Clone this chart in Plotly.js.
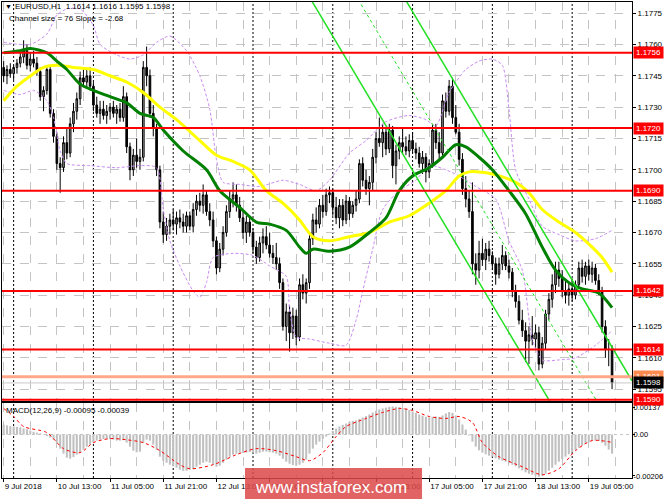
<!DOCTYPE html>
<html><head><meta charset="utf-8">
<script src="https://cdn.plot.ly/plotly-3.0.1.min.js"></script>
<style>html,body{margin:0;padding:0;background:#fff}#chart{width:665px;height:499px}</style>
</head><body><div id="chart"></div>
<script>
// ---- candles (EURUSD H1, bar 0 = 9 Jul 21:00) ----
const openP = [
1.1749,1.1745,1.1748,1.1746,1.1749,1.1751,1.1754,1.1757,1.1750,1.1753,
1.1751,1.1747,1.1735,1.1738,1.1748,1.1727,1.1716,1.1703,1.1701,1.1713,
1.1708,1.1722,1.1728,1.1734,1.1744,1.1742,1.1745,1.1740,1.1731,1.1727,
1.1729,1.1726,1.1728,1.1730,1.1727,1.1729,1.1725,1.1735,1.1711,1.1700,
1.1707,1.1704,1.1706,1.1749,1.1745,1.1727,1.1720,1.1700,1.1675,1.1669,
1.1673,1.1676,1.1674,1.1677,1.1675,1.1673,1.1678,1.1673,1.1681,1.1685,
1.1683,1.1688,1.1680,1.1676,1.1666,1.1653,1.1662,1.1670,1.1680,1.1686,
1.1688,1.1683,1.1677,1.1670,1.1675,1.1670,1.1663,1.1658,1.1665,1.1668,
1.1664,1.1660,1.1658,1.1655,1.1646,1.1625,1.1632,1.1622,1.1630,1.1620,
1.1645,1.1641,1.1646,1.1667,1.1676,1.1674,1.1683,1.1680,1.1688,1.1689,
1.1682,1.1677,1.1683,1.1676,1.1685,1.1679,1.1683,1.1686,1.1703,1.1695,
1.1691,1.1694,1.1706,1.1715,1.1713,1.1718,1.1710,1.1719,1.1702,1.1709,
1.1713,1.1711,1.1709,1.1714,1.1710,1.1708,1.1703,1.1706,1.1699,1.1703,
1.1719,1.1713,1.1708,1.1733,1.1728,1.1740,1.1725,1.1718,1.1705,1.1691,
1.1686,1.1680,1.1655,1.1652,1.1660,1.1657,1.1662,1.1659,1.1655,1.1650,
1.1655,1.1659,1.1654,1.1651,1.1642,1.1637,1.1628,1.1623,1.1618,1.1621,
1.1619,1.1622,1.1607,1.1617,1.1631,1.1638,1.1645,1.1652,1.1648,1.1642,
1.1640,1.1643,1.1640,1.1645,1.1653,1.1649,1.1654,1.1650,1.1653,1.1647,
1.1642,1.1625,1.1614,1.1614];
const highP = [
1.1752,1.1750,1.1751,1.1750,1.1753,1.1756,1.1762,1.1760,1.1756,1.1757,
1.1754,1.1749,1.1740,1.1750,1.1750,1.1729,1.1718,1.1706,1.1716,1.1720,
1.1725,1.1732,1.1737,1.1747,1.1749,1.1748,1.1749,1.1742,1.1735,1.1733,
1.1733,1.1731,1.1732,1.1733,1.1731,1.1732,1.1740,1.1737,1.1713,1.1710,
1.1715,1.1710,1.1752,1.1759,1.1748,1.1731,1.1722,1.1702,1.1680,1.1677,
1.1679,1.1681,1.1680,1.1681,1.1679,1.1680,1.1680,1.1684,1.1688,1.1689,
1.1693,1.1690,1.1684,1.1680,1.1668,1.1665,1.1673,1.1683,1.1690,1.1694,
1.1693,1.1687,1.1680,1.1678,1.1678,1.1672,1.1666,1.1668,1.1672,1.1673,
1.1670,1.1664,1.1665,1.1658,1.1648,1.1636,1.1635,1.1634,1.1633,1.1648,
1.1650,1.1648,1.1670,1.1679,1.1682,1.1686,1.1688,1.1691,1.1692,1.1691,
1.1687,1.1686,1.1686,1.1688,1.1687,1.1685,1.1690,1.1705,1.1706,1.1700,
1.1697,1.1710,1.1718,1.1725,1.1722,1.1720,1.1722,1.1721,1.1712,1.1716,
1.1720,1.1716,1.1717,1.1718,1.1713,1.1711,1.1709,1.1708,1.1705,1.1722,
1.1722,1.1718,1.1736,1.1737,1.1743,1.1744,1.1731,1.1722,1.1708,1.1697,
1.1690,1.1694,1.1660,1.1666,1.1667,1.1665,1.1666,1.1661,1.1658,1.1658,
1.1664,1.1661,1.1657,1.1653,1.1645,1.1640,1.1633,1.1627,1.1625,1.1630,
1.1626,1.1625,1.1620,1.1633,1.1641,1.1650,1.1656,1.1656,1.1652,1.1647,
1.1646,1.1648,1.1647,1.1656,1.1657,1.1656,1.1657,1.1656,1.1655,1.1650,
1.1644,1.1628,1.1619,1.1616];
const lowP = [
1.1742,1.1741,1.1744,1.1743,1.1746,1.1749,1.1751,1.1748,1.1747,1.1749,
1.1745,1.1733,1.1728,1.1736,1.1725,1.1713,1.1700,1.1689,1.1699,1.1705,
1.1706,1.1718,1.1724,1.1731,1.1740,1.1739,1.1738,1.1728,1.1725,1.1722,
1.1724,1.1722,1.1724,1.1725,1.1722,1.1723,1.1723,1.1708,1.1695,1.1697,
1.1701,1.1700,1.1704,1.1740,1.1725,1.1716,1.1697,1.1672,1.1665,1.1666,
1.1669,1.1671,1.1669,1.1672,1.1670,1.1670,1.1671,1.1670,1.1678,1.1680,
1.1679,1.1678,1.1673,1.1663,1.1650,1.1651,1.1659,1.1668,1.1677,1.1682,
1.1680,1.1675,1.1667,1.1665,1.1668,1.1660,1.1655,1.1656,1.1660,1.1662,
1.1658,1.1655,1.1652,1.1643,1.1623,1.1618,1.1613,1.1619,1.1616,1.1618,
1.1638,1.1636,1.1643,1.1664,1.1670,1.1672,1.1677,1.1678,1.1684,1.1678,
1.1674,1.1672,1.1673,1.1674,1.1676,1.1677,1.1680,1.1684,1.1692,1.1688,
1.1683,1.1690,1.1703,1.1711,1.1706,1.1707,1.1708,1.1696,1.1693,1.1705,
1.1708,1.1707,1.1706,1.1708,1.1705,1.1701,1.1698,1.1694,1.1696,1.1701,
1.1710,1.1705,1.1706,1.1725,1.1726,1.1722,1.1717,1.1702,1.1688,1.1682,
1.1677,1.1650,1.1645,1.1648,1.1654,1.1652,1.1656,1.1652,1.1645,1.1648,
1.1652,1.1652,1.1648,1.1639,1.1634,1.1626,1.1620,1.1608,1.1607,1.1616,
1.1614,1.1604,1.1605,1.1614,1.1628,1.1634,1.1641,1.1644,1.1639,1.1636,
1.1635,1.1637,1.1638,1.1643,1.1646,1.1645,1.1647,1.1646,1.1645,1.1640,
1.1622,1.1610,1.1606,1.1595];
const closeP = [
1.1745,1.1748,1.1746,1.1749,1.1751,1.1754,1.1757,1.1750,1.1753,1.1751,
1.1747,1.1735,1.1738,1.1748,1.1727,1.1716,1.1703,1.1701,1.1713,1.1708,
1.1722,1.1728,1.1734,1.1744,1.1742,1.1745,1.1740,1.1731,1.1727,1.1729,
1.1726,1.1728,1.1730,1.1727,1.1729,1.1725,1.1735,1.1711,1.1700,1.1707,
1.1704,1.1706,1.1749,1.1745,1.1727,1.1720,1.1700,1.1675,1.1669,1.1673,
1.1676,1.1674,1.1677,1.1675,1.1673,1.1678,1.1673,1.1681,1.1685,1.1683,
1.1688,1.1680,1.1676,1.1666,1.1653,1.1662,1.1670,1.1680,1.1686,1.1688,
1.1683,1.1677,1.1670,1.1675,1.1670,1.1663,1.1658,1.1665,1.1668,1.1664,
1.1660,1.1658,1.1655,1.1646,1.1625,1.1632,1.1622,1.1630,1.1620,1.1645,
1.1641,1.1646,1.1667,1.1676,1.1674,1.1683,1.1680,1.1688,1.1689,1.1682,
1.1677,1.1683,1.1676,1.1685,1.1679,1.1683,1.1686,1.1703,1.1695,1.1691,
1.1694,1.1706,1.1715,1.1713,1.1718,1.1710,1.1719,1.1702,1.1709,1.1713,
1.1711,1.1709,1.1714,1.1710,1.1708,1.1703,1.1706,1.1699,1.1703,1.1719,
1.1713,1.1708,1.1733,1.1728,1.1740,1.1725,1.1718,1.1705,1.1691,1.1686,
1.1680,1.1655,1.1652,1.1660,1.1657,1.1662,1.1659,1.1655,1.1650,1.1655,
1.1659,1.1654,1.1651,1.1642,1.1637,1.1628,1.1623,1.1618,1.1621,1.1619,
1.1622,1.1607,1.1617,1.1631,1.1638,1.1645,1.1652,1.1648,1.1642,1.1640,
1.1643,1.1640,1.1645,1.1653,1.1649,1.1654,1.1650,1.1653,1.1647,1.1642,
1.1625,1.1614,1.1614,1.1598];

// ---- moving averages (read at sample bars) ----
const greenIdx = [0,5,8,13,16,19,23,27,32,37,41,45,48,54,61,65,71,76,80,85,89,91,93,98,104,110,115,119,123,128,132,136,139,143,147,152,157,162,166,170,174,179,183];
const greenVal = [1.1756,1.1757,1.1758,1.1756,1.1752,1.1748,1.1741,1.1738,1.1735,1.1732,1.1727,1.1725,1.1719,1.1709,1.1700,1.1690,1.1682,1.1675,1.1674,1.1671,1.1663,1.1660,1.1662,1.1661,1.1663,1.1670,1.1677,1.1690,1.1697,1.1701,1.1706,1.1712,1.1711,1.1706,1.1700,1.1690,1.1679,1.1663,1.1652,1.1646,1.1643,1.1641,1.1634];
const yellowIdx = [0,4,9,12,16,21,27,32,37,42,47,52,59,64,69,74,79,84,89,93,98,104,110,116,122,128,133,137,140,143,147,154,158,162,167,172,177,180,183];
const yellowVal = [1.1733,1.1740,1.1746,1.1749,1.1750,1.1749,1.1748,1.1745,1.1742,1.1737,1.1730,1.1724,1.1714,1.1707,1.1704,1.1700,1.1690,1.1684,1.1676,1.1668,1.1666,1.1668,1.1670,1.1675,1.1678,1.1684,1.1690,1.1697,1.1699,1.1699,1.1698,1.1694,1.1689,1.1681,1.1675,1.1670,1.1663,1.1658,1.1651];

// ---- bands ----
const upIdx = [0,8,13,16,19,23,27,29,34,38,42,46,50,55,59,62,64,66,71,77,84,89,94,98,104,109,115,122,127,130,134,139,143,147,150,152,154,158,162,167,172,178,183];
const upVal = [1.1761,1.1760,1.1765,1.1774,1.1777,1.1777,1.1769,1.1760,1.1755,1.1753,1.1755,1.1761,1.1764,1.1757,1.1745,1.1729,1.1705,1.1694,1.1693,1.1692,1.1695,1.1693,1.1690,1.1695,1.1708,1.1714,1.1723,1.1726,1.1724,1.1721,1.1737,1.1748,1.1752,1.1753,1.1750,1.1729,1.1700,1.1686,1.1673,1.1669,1.1666,1.1667,1.1671];
const loIdx = [0,5,9,13,15,17,19,26,34,41,46,48,50,53,57,59,61,63,69,75,80,85,86,88,92,98,103,106,108,111,114,119,124,128,133,137,142,148,152,156,159,162,167,172,178,183];
const loVal = [1.1738,1.1736,1.1738,1.1733,1.1725,1.1709,1.1703,1.1702,1.1701,1.1702,1.1701,1.1681,1.1666,1.1654,1.1642,1.1639,1.1646,1.1658,1.1660,1.1659,1.1654,1.1649,1.1633,1.1620,1.1619,1.1617,1.1616,1.1628,1.1642,1.1662,1.1681,1.1690,1.1695,1.1702,1.1700,1.1697,1.1692,1.1686,1.1666,1.1652,1.1619,1.1609,1.1609,1.1610,1.1616,1.1623];

// ---- regression channel (end points) ----
const chIdx = [90, 189];
const chUpper = [1.1864, 1.1599];
const chMid = [1.1826, 1.1561];
const chLower = [1.1788, 1.1523];

// ---- levels ----
const redLevels = [1.1756, 1.1720, 1.1690, 1.1642, 1.1614, 1.1590];
const askLevel = 1.1601;
const bidLevel = 1.1598;

// ---- MACD ----
const macdHist = [
0.00050,0.00046,0.00042,0.00040,0.00038,0.00036,0.00030,0.00026,0.00020,0.00014,
0.00010,0.00006,0.00002,-0.00008,-0.00015,-0.00025,-0.00045,-0.00070,-0.00095,-0.00115,
-0.00120,-0.00112,-0.00100,-0.00090,-0.00075,-0.00060,-0.00050,-0.00040,-0.00030,-0.00025,
-0.00022,-0.00020,-0.00022,-0.00025,-0.00030,-0.00030,-0.00028,-0.00040,-0.00060,-0.00080,
-0.00088,-0.00085,-0.00040,-0.00025,-0.00030,-0.00050,-0.00075,-0.00110,-0.00130,-0.00140,
-0.00150,-0.00158,-0.00165,-0.00175,-0.00180,-0.00180,-0.00175,-0.00170,-0.00160,-0.00150,
-0.00140,-0.00135,-0.00140,-0.00150,-0.00160,-0.00155,-0.00140,-0.00125,-0.00110,-0.00100,
-0.00095,-0.00090,-0.00092,-0.00090,-0.00088,-0.00090,-0.00095,-0.00090,-0.00085,-0.00085,
-0.00088,-0.00090,-0.00095,-0.00105,-0.00120,-0.00135,-0.00145,-0.00152,-0.00155,-0.00150,
-0.00140,-0.00125,-0.00095,-0.00070,-0.00050,-0.00035,-0.00022,-0.00010,0.00005,0.00018,
0.00030,0.00040,0.00048,0.00055,0.00062,0.00068,0.00070,0.00078,0.00085,0.00092,
0.00100,0.00110,0.00118,0.00125,0.00130,0.00134,0.00138,0.00140,0.00138,0.00136,
0.00132,0.00128,0.00122,0.00115,0.00108,0.00100,0.00094,0.00088,0.00085,0.00088,
0.00090,0.00088,0.00095,0.00105,0.00112,0.00108,0.00095,0.00075,0.00050,0.00025,
-0.00005,-0.00035,-0.00060,-0.00078,-0.00090,-0.00098,-0.00105,-0.00110,-0.00118,-0.00125,
-0.00130,-0.00135,-0.00142,-0.00150,-0.00158,-0.00168,-0.00178,-0.00188,-0.00195,-0.00200,
-0.00205,-0.00210,-0.00205,-0.00195,-0.00180,-0.00165,-0.00150,-0.00135,-0.00122,-0.00110,
-0.00098,-0.00088,-0.00078,-0.00065,-0.00055,-0.00045,-0.00038,-0.00032,-0.00030,-0.00032,
-0.00040,-0.00055,-0.00075,-0.00095];
const sigIdx = [0,3,6,13,18,23,27,32,37,42,47,53,56,63,70,76,82,88,92,96,100,103,109,114,119,123,128,133,137,141,144,149,156,162,167,172,177,183];
const sigVal = [0.0013,0.0009,0.0004,0.0001,-0.0007,-0.0009,-0.0004,-0.0002,-0.00026,-0.0004,-0.0008,-0.0015,-0.0017,-0.0015,-0.0010,-0.0007,-0.0008,-0.0011,-0.0013,-0.0009,-0.0001,0.0004,0.0008,0.0011,0.0013,0.0012,0.0009,0.0008,0.0009,0.0006,-0.0004,-0.0011,-0.0016,-0.0020,-0.0017,-0.0008,-0.0003,-0.00039];

// ---- axes labels ----
const timeTickIdx = [0,16,32,48,64,80,96,112,128,144,160,176];
const timeTickText = ['9 Jul 2018','10 Jul 13:00','11 Jul 05:00','11 Jul 21:00','12 Jul 13:00','13 Jul 05:00','13 Jul 21:00','16 Jul 13:00','17 Jul 05:00','17 Jul 21:00','18 Jul 13:00','19 Jul 05:00'];
const daySepIdx = [3,27,51,75,99,123,147,171];
const priceTicks = [1.1595,1.1610,1.1625,1.1640,1.1655,1.1670,1.1685,1.1700,1.1715,1.1730,1.1745,1.1760,1.1775];
const macdTicks = [0.00137, 0, -0.00206];
const macdTickText = ['0.00137','0.00','-0.00206'];

const FONT = 'Liberation Sans, Arial, sans-serif';
const bars = closeP.map((_, i) => i);
const GRID = '#c4c4c4';

const traces = [
  {type:'scatter', mode:'lines', x:upIdx, y:upVal, xaxis:'x', yaxis:'y', line:{color:'#c98cf2', width:1, dash:'3px,2px', shape:'spline', smoothing:0.7}, hoverinfo:'skip'},
  {type:'scatter', mode:'lines', x:loIdx, y:loVal, xaxis:'x', yaxis:'y', line:{color:'#c98cf2', width:1, dash:'3px,2px', shape:'spline', smoothing:0.7}, hoverinfo:'skip'},
  {type:'candlestick', x:bars, open:openP, high:highP, low:lowP, close:closeP, xaxis:'x', yaxis:'y',
   increasing:{line:{color:'#000000', width:1}, fillcolor:'#a0a0a0'},
   decreasing:{line:{color:'#000000', width:1}, fillcolor:'#000000'}, hoverinfo:'skip'},
  {type:'scatter', mode:'lines', x:yellowIdx, y:yellowVal, xaxis:'x', yaxis:'y', line:{color:'#ffff00', width:3, shape:'spline', smoothing:0.8}, hoverinfo:'skip'},
  {type:'scatter', mode:'lines', x:greenIdx, y:greenVal, xaxis:'x', yaxis:'y', line:{color:'#008000', width:3, shape:'spline', smoothing:0.8}, hoverinfo:'skip'},
  {type:'scatter', mode:'lines', x:chIdx, y:chUpper, xaxis:'x', yaxis:'y', line:{color:'#22e022', width:1.5}, hoverinfo:'skip'},
  {type:'scatter', mode:'lines', x:chIdx, y:chMid, xaxis:'x', yaxis:'y', line:{color:'#22e022', width:1, dash:'3px,3px'}, hoverinfo:'skip'},
  {type:'scatter', mode:'lines', x:chIdx, y:chLower, xaxis:'x', yaxis:'y', line:{color:'#22e022', width:1.5}, hoverinfo:'skip'},
  {type:'bar', x:bars, y:macdHist, xaxis:'x2', yaxis:'y2', width:0.62, marker:{color:'#c0c0c0', line:{width:0}}, hoverinfo:'skip'},
  {type:'scatter', mode:'lines', x:sigIdx, y:sigVal, xaxis:'x2', yaxis:'y2', line:{color:'#ff0000', width:1, dash:'dot', shape:'spline', smoothing:0.8}, hoverinfo:'skip'}
];

const shapes = [];
daySepIdx.forEach(v => shapes.push({type:'line', xref:'x', yref:'paper', x0:v, x1:v, y0:0, y1:1, layer:'between', line:{color:'#000000', width:1, dash:'2px,2px'}}));
redLevels.forEach(v => shapes.push({type:'line', xref:'paper', yref:'y', x0:0, x1:1, y0:v, y1:v, layer:'above', line:{color:'#ff0000', width:2}}));
shapes.push({type:'line', xref:'paper', yref:'y', x0:0, x1:1, y0:askLevel, y1:askLevel, layer:'above', line:{color:'#ffa889', width:3}});
shapes.push({type:'line', xref:'paper', yref:'y', x0:0, x1:1, y0:bidLevel, y1:bidLevel, layer:'above', line:{color:'#c8c8c8', width:1}});
shapes.push({type:'line', xref:'paper', yref:'y2', x0:0, x1:1, y0:0, y1:0, layer:'between', line:{color:GRID, width:1, dash:'3px,3px'}});
// watermark plate
shapes.push({type:'rect', xref:'paper', yref:'paper', x0:0.3857, x1:0.6667, y0:-0.046, y1:0.021, layer:'above', fillcolor:'rgba(221,72,72,0.85)', line:{width:0}});

const annotations = [];
function priceLabel(v, bg, fg) {
  annotations.push({xref:'paper', yref:'y', x:1, y:v, xanchor:'left', yanchor:'middle', xshift:1, text:v.toFixed(4), showarrow:false,
    font:{family:FONT, size:8, color:fg}, bgcolor:bg, borderpad:1, width:27, height:9, align:'center'});
}
redLevels.forEach(v => priceLabel(v, '#ff0000', '#ffffff'));
priceLabel(askLevel, '#ff8a50', '#ffffff');
priceLabel(bidLevel, '#000000', '#ffffff');

annotations.push({xref:'paper', yref:'paper', x:0.0015, y:0.9895, xanchor:'left', yanchor:'middle', showarrow:false, text:'▼', font:{family:FONT, size:7, color:'#000'}});
annotations.push({xref:'paper', yref:'paper', x:0.0175, y:0.9895, xanchor:'left', yanchor:'middle', showarrow:false,
  text:'EURUSD,H1\u00a0\u00a01.1614 1.1616 1.1595 1.1598', font:{family:FONT, size:8, color:'#000'}});
annotations.push({xref:'paper', yref:'paper', x:0.0075, y:0.9643, xanchor:'left', yanchor:'middle', showarrow:false,
  text:'Channel size = 76 Slope = -2.68', font:{family:FONT, size:8, color:'#000'}});
annotations.push({xref:'paper', yref:'paper', x:0.003, y:0.141, xanchor:'left', yanchor:'middle', showarrow:false,
  text:'MACD(12,26,9) -0.00095 -0.00039', font:{family:FONT, size:8, color:'#000'}});
annotations.push({xref:'paper', yref:'paper', x:0.523, y:-0.0195, xanchor:'center', yanchor:'middle', showarrow:false,
  text:'www.instaforex.com', font:{family:FONT, size:17, color:'#ffffff'}});

const xBase = {
  range:[-0.5, 189], showgrid:true, gridcolor:GRID, griddash:'dash', gridwidth:1,
  tickmode:'array', tickvals:timeTickIdx, ticktext:timeTickText,
  minor:{tickmode:'linear', tick0:0, dtick:8, showgrid:true, gridcolor:GRID, griddash:'dash', gridwidth:1, ticks:''},
  showline:true, mirror:true, linecolor:'#000', linewidth:1, zeroline:false, fixedrange:true,
  rangeslider:{visible:false}
};

const layout = {
  width:665, height:499, margin:{l:2, r:33, t:2, b:21},
  paper_bgcolor:'#ffffff', plot_bgcolor:'#ffffff', showlegend:false,
  font:{family:FONT, size:8, color:'#000'},
  xaxis: Object.assign({}, xBase, {anchor:'y', domain:[0,1], showticklabels:false, ticks:''}),
  xaxis2: Object.assign({}, xBase, {anchor:'y2', domain:[0,1], matches:'x', showticklabels:true, ticks:'outside', ticklen:3, tickcolor:'#000',
    ticklabelposition:'outside right', tickfont:{family:FONT, size:8, color:'#000'}}),
  yaxis: {anchor:'x', domain:[0.16176, 1], side:'right', range:[1.158935, 1.17803],
    tickmode:'array', tickvals:priceTicks, ticktext:priceTicks.map(v => v.toFixed(4)),
    showgrid:true, gridcolor:GRID, griddash:'dash', gridwidth:1, zeroline:false,
    showline:true, mirror:true, linecolor:'#000', linewidth:1, ticks:'outside', ticklen:3, tickcolor:'#000',
    tickfont:{family:FONT, size:8, color:'#000'}, fixedrange:true},
  yaxis2: {anchor:'x2', domain:[0, 0.15756], side:'right', range:[-0.00216, 0.00157],
    tickmode:'array', tickvals:macdTicks, ticktext:macdTickText, showgrid:false, zeroline:false,
    showline:true, mirror:true, linecolor:'#000', linewidth:1, ticks:'outside', ticklen:2, tickcolor:'#000',
    ticklabelstandoff:-3,
    tickfont:{family:FONT, size:7.5, color:'#000'}, fixedrange:true},
  bargap:0.3,
  shapes: shapes,
  annotations: annotations
};

Plotly.newPlot('chart', traces, layout, {staticPlot:true, displayModeBar:false});
</script></body></html>
